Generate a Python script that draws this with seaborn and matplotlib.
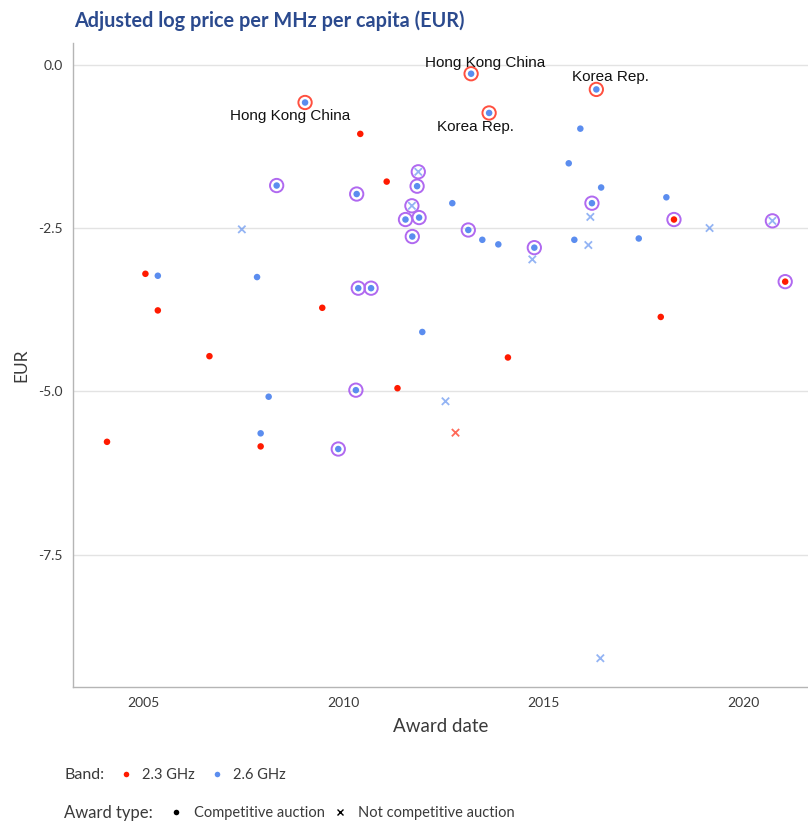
import matplotlib
matplotlib.use("Agg")
import matplotlib.pyplot as plt
from matplotlib.lines import Line2D
import pandas as pd
import seaborn as sns

# 2.3 GHz, competitive auctions
b23_comp_year = [2004.10, 2005.06, 2005.37, 2006.66, 2007.94, 2009.48, 2010.43,
                 2011.09, 2011.36, 2014.12, 2017.94, 2018.27, 2021.05]
b23_comp_price = [-5.77, -3.20, -3.76, -4.46, -5.84, -3.72, -1.06,
                  -1.79, -4.95, -4.48, -3.86, -2.37, -3.32]
b23_comp_ring = ["", "", "", "", "", "", "", "", "", "", "", "p", "p"]

# 2.3 GHz, not competitive
b23_nc_year = [2012.81]
b23_nc_price = [-5.63]
b23_nc_ring = [""]

# 2.6 GHz, competitive auctions
b26_comp_year = [2005.37, 2007.85, 2008.14, 2007.94, 2008.34, 2009.05, 2009.88,
                 2010.32, 2010.34, 2010.38, 2010.70, 2011.85, 2011.56, 2011.90,
                 2011.73, 2012.73, 2013.13, 2013.48, 2013.88, 2011.98, 2013.20,
                 2013.65, 2016.33, 2015.93, 2015.64, 2016.45, 2016.22, 2018.08,
                 2017.39, 2015.78, 2014.78]
b26_comp_price = [-3.23, -3.25, -5.08, -5.64, -1.85, -0.58, -5.88,
                  -4.98, -1.98, -3.42, -3.42, -1.86, -2.37, -2.34,
                  -2.63, -2.12, -2.53, -2.68, -2.75, -4.09, -0.14,
                  -0.74, -0.38, -0.98, -1.51, -1.88, -2.12, -2.03,
                  -2.66, -2.68, -2.80]
b26_comp_ring = ["", "", "", "", "p", "r", "p",
                 "p", "p", "p", "p", "p", "p", "p",
                 "p", "", "p", "", "", "", "r",
                 "r", "r", "", "", "", "p", "",
                 "", "", "p"]

# 2.6 GHz, not competitive
b26_nc_year = [2011.88, 2011.72, 2012.56, 2016.18, 2020.73, 2019.16, 2016.13,
               2014.73, 2007.47, 2016.43]
b26_nc_price = [-1.64, -2.16, -5.15, -2.33, -2.39, -2.50, -2.76,
                -2.98, -2.52, -9.08]
b26_nc_ring = ["p", "p", "", "", "p", "", "", "", "", ""]

# labelled countries
label_text = ["Hong Kong China", "Hong Kong China", "Korea Rep.", "Korea Rep."]
label_year = [2009.05, 2013.20, 2013.65, 2016.33]
label_price = [-0.58, -0.14, -0.74, -0.38]
label_offset = [(-11, -10), (10, 8), (-10, -10), (10, 9)]  # points

BAND_COLORS = {"2.3 GHz": "#ff1a00", "2.6 GHz": "#5b8def"}
RING_COLORS = {"p": "#b069f0", "r": "#ff5040"}
TITLE_COLOR = "#2b4a8e"
TEXT_COLOR = "#3a3a3a"


def build_frame():
    parts = []
    for band, award, yr, pr, rg in [
        ("2.3 GHz", "Competitive auction", b23_comp_year, b23_comp_price, b23_comp_ring),
        ("2.3 GHz", "Not competitive auction", b23_nc_year, b23_nc_price, b23_nc_ring),
        ("2.6 GHz", "Competitive auction", b26_comp_year, b26_comp_price, b26_comp_ring),
        ("2.6 GHz", "Not competitive auction", b26_nc_year, b26_nc_price, b26_nc_ring),
    ]:
        parts.append(pd.DataFrame({"year": yr, "price": pr, "ring": rg,
                                   "band": band, "award": award}))
    return pd.concat(parts, ignore_index=True)


df = build_frame()

sns.set_style("white")
plt.rcParams["font.family"] = ["Lato", "DejaVu Sans"]

fig = plt.figure(figsize=(8.08, 8.25), dpi=100)
ax = fig.add_axes([73 / 808, 138 / 825, 735 / 808, 644 / 825])

# rings behind the points
for key, col in RING_COLORS.items():
    sub = df[df["ring"] == key]
    sns.scatterplot(data=sub, x="year", y="price", ax=ax, s=92,
                    facecolor="none", edgecolor=col, linewidth=1.4,
                    legend=False, zorder=2)

comp = df[df["award"] == "Competitive auction"]
sns.scatterplot(data=comp, x="year", y="price", hue="band", palette=BAND_COLORS,
                ax=ax, s=22, linewidth=0, legend=False, zorder=3)

nc = df[df["award"] == "Not competitive auction"]
sns.scatterplot(data=nc, x="year", y="price", hue="band", palette=BAND_COLORS,
                ax=ax, s=28, marker="x", linewidth=1.3, alpha=0.65,
                legend=False, zorder=3)

for txt, x, y, off in zip(label_text, label_year, label_price, label_offset):
    ax.annotate(txt, (x, y), xytext=off, textcoords="offset points",
                ha="center", va="center", fontsize=11,
                family="Liberation Sans", color="#111111", zorder=4)

ax.set_xlim(2003.25, 2021.62)
ax.set_ylim(-9.52, 0.33)
ax.set_xticks([2005, 2010, 2015, 2020])
ax.set_yticks([0.0, -2.5, -5.0, -7.5])
ax.set_yticklabels(["0.0", "-2.5", "-5.0", "-7.5"])
ax.yaxis.grid(True, color="#e3e3e3", linewidth=1.0)
ax.set_axisbelow(True)
for side in ["top", "right"]:
    ax.spines[side].set_visible(False)
for side in ["left", "bottom"]:
    ax.spines[side].set_color("#b5b5b5")
    ax.spines[side].set_linewidth(1.0)
ax.tick_params(axis="both", colors="#b5b5b5", length=4, width=1,
               labelcolor=TEXT_COLOR, labelsize=10)
ax.set_xlabel("Award date", fontsize=13.5, color=TEXT_COLOR, labelpad=6)
ax.set_ylabel("EUR", fontsize=12.5, color=TEXT_COLOR, labelpad=6)

fig.text(74 / 808, 1 - 21 / 825, "Adjusted log price per MHz per capita (EUR)",
         fontsize=14.3, fontweight="bold", color=TITLE_COLOR,
         ha="left", va="center")

# legends
fig.text(64 / 808, 1 - 775 / 825, "Band:", fontsize=11.5, color=TEXT_COLOR,
         va="center", ha="left")
band_handles = [Line2D([], [], marker="o", linestyle="", markersize=4,
                       markerfacecolor=c, markeredgewidth=0)
                for c in BAND_COLORS.values()]
fig.legend(band_handles, list(BAND_COLORS.keys()), loc="center left",
           bbox_to_anchor=(110 / 808, 1 - 775 / 825), ncol=2, frameon=False,
           fontsize=10.5, handlelength=1.2, handletextpad=0.5, columnspacing=0.9,
           labelcolor=TEXT_COLOR, borderpad=0)

fig.text(64 / 808, 1 - 813 / 825, "Award type:", fontsize=12,
         color=TEXT_COLOR, va="center", ha="left")
award_handles = [
    Line2D([], [], marker="o", linestyle="", markersize=4,
           markerfacecolor="black", markeredgewidth=0),
    Line2D([], [], marker="x", linestyle="", markersize=5,
           markeredgecolor="black", markeredgewidth=1.0),
]
fig.legend(award_handles, ["Competitive auction", "Not competitive auction"],
           loc="center left", bbox_to_anchor=(160 / 808, 1 - 813 / 825),
           ncol=2, frameon=False, fontsize=10.5, handlelength=1.2,
           handletextpad=0.6, columnspacing=0.5, labelcolor=TEXT_COLOR,
           borderpad=0)

fig.savefig("out.png", dpi=100, facecolor="white")
plt.close(fig)
